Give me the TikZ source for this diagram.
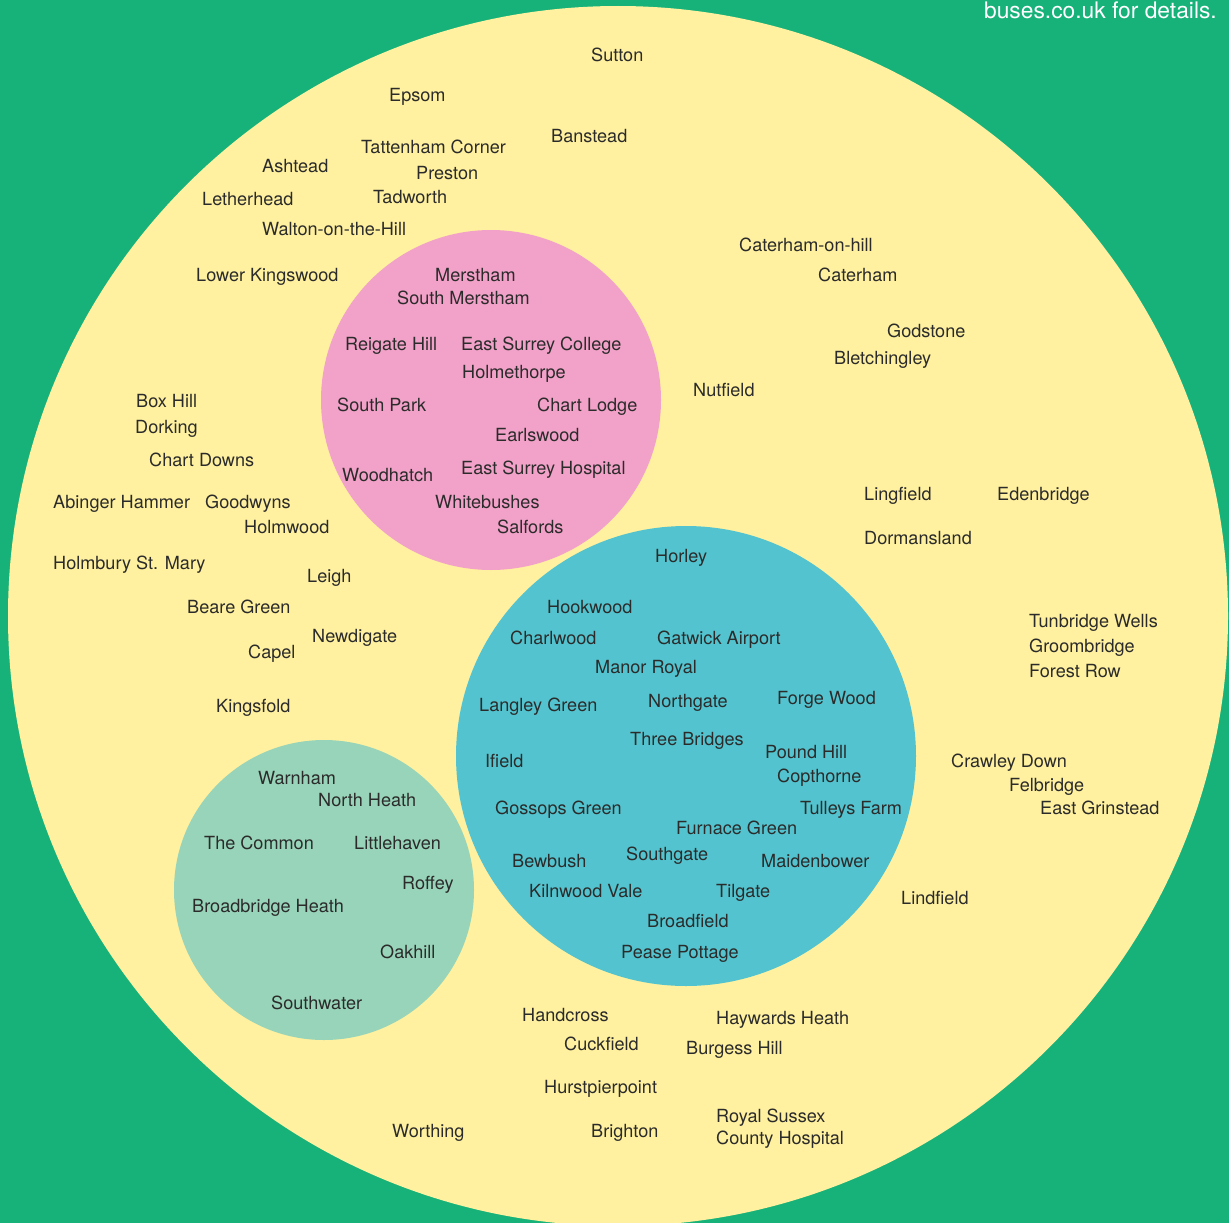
\documentclass[tikz,border=0pt]{standalone}
\usepackage{fontspec}
\setmainfont{TeX Gyre Heros}
\usepackage{tikz}
\usetikzlibrary{positioning}

\definecolor{bgGreen}{HTML}{16B27A}
\definecolor{zoneYellow}{HTML}{FFF19F}
\definecolor{zonePink}{HTML}{F2A2C8}
\definecolor{zoneBlue}{HTML}{53C4CF}
\definecolor{zoneMint}{HTML}{98D4B9}
\definecolor{placeText}{HTML}{2B2B2B}

\tikzset{
	place/.style={anchor=base west,inner sep=0pt,text=placeText,font=\fontsize{18.1}{22}\selectfont},
	note/.style={anchor=base east,inner sep=0pt,text=white,font=\fontsize{22.8}{26}\selectfont}
}

\begin{document}
\begin{tikzpicture}[x=1pt,y=-1pt]
	% Flaechen
		\useasboundingbox (0,0) rectangle (1229,1223);
		\fill[bgGreen] (0,0) rectangle (1229,1223);
		\fill[zoneYellow] (618,616) circle [radius=610pt];
		\fill[zonePink] (491,400) circle [radius=170pt];
		\fill[zoneBlue] (686,756) circle [radius=230pt];
		\fill[zoneMint] (324,890) circle [radius=150pt];
	% Hinweis
		\node (details) at (1217,19) [note] {buses.co.uk for details.};
	% Orte aussen
		\node (sutton) at (591,62) [place] {Sutton};
		\node (epsom) at (389,102) [place] {Epsom};
		\node (banstead) at (551,142) [place] {Banstead};
		\node (tattenham) at (361,153) [place] {Tattenham Corner};
		\node (ashtead) at (262,172) [place] {Ashtead};
		\node (preston) at (416,179) [place] {Preston};
		\node (letherhead) at (202,205) [place] {Letherhead};
		\node (tadworth) at (373,203) [place] {Tadworth};
		\node (walton) at (262,235) [place] {Walton-on-the-Hill};
		\node (caterhamhill) at (739,251) [place] {Caterham-on-hill};
		\node (kingswood) at (196,281) [place] {Lower Kingswood};
		\node (caterham) at (818,281) [place] {Caterham};
		\node (godstone) at (887,337) [place] {Godstone};
		\node (bletchingley) at (834,364) [place] {Bletchingley};
		\node (nutfield) at (693,396) [place] {Nutfield};
		\node (boxhill) at (136,407) [place] {Box Hill};
		\node (dorking) at (135,433) [place] {Dorking};
		\node (chartdowns) at (149,466) [place] {Chart Downs};
		\node (lingfield) at (864,500) [place] {Lingfield};
		\node (edenbridge) at (997,500) [place] {Edenbridge};
		\node (abinger) at (53,508) [place] {Abinger Hammer};
		\node (goodwyns) at (205,508) [place] {Goodwyns};
		\node (holmwood) at (244,533) [place] {Holmwood};
		\node (dormansland) at (864,544) [place] {Dormansland};
		\node (holmbury) at (53,569) [place] {Holmbury St. Mary};
		\node (leigh) at (307,582) [place] {Leigh};
		\node (bearegreen) at (187,613) [place] {Beare Green};
		\node (tunbridge) at (1029,627) [place] {Tunbridge Wells};
		\node (groombridge) at (1029,652) [place] {Groombridge};
		\node (forestrow) at (1029,677) [place] {Forest Row};
		\node (newdigate) at (312,642) [place] {Newdigate};
		\node (capel) at (248,658) [place] {Capel};
		\node (kingsfold) at (216,712) [place] {Kingsfold};
		\node (crawleydown) at (951,767) [place] {Crawley Down};
		\node (felbridge) at (1009,791) [place] {Felbridge};
		\node (grinstead) at (1040,814) [place] {East Grinstead};
		\node (lindfield) at (901,904) [place] {Lindfield};
		\node (handcross) at (522,1021) [place] {Handcross};
		\node (haywards) at (716,1024) [place] {Haywards Heath};
		\node (cuckfield) at (564,1050) [place] {Cuckfield};
		\node (burgess) at (686,1054) [place] {Burgess Hill};
		\node (hurst) at (544,1093) [place] {Hurstpierpoint};
		\node (royalsussex) at (716,1122) [place] {Royal Sussex};
		\node (countyhosp) at (716,1144) [place] {County Hospital};
		\node (worthing) at (392,1137) [place] {Worthing};
		\node (brighton) at (591,1137) [place] {Brighton};
	% Orte rosa
		\node (merstham) at (435,281) [place] {Merstham};
		\node (southmerstham) at (397,304) [place] {South Merstham};
		\node (reigatehill) at (345,350) [place] {Reigate Hill};
		\node (esc) at (461,350) [place] {East Surrey College};
		\node (holmethorpe) at (462,378) [place] {Holmethorpe};
		\node (southpark) at (337,411) [place] {South Park};
		\node (chartlodge) at (537,411) [place] {Chart Lodge};
		\node (earlswood) at (495,441) [place] {Earlswood};
		\node (woodhatch) at (342,481) [place] {Woodhatch};
		\node (esh) at (461,474) [place] {East Surrey Hospital};
		\node (whitebushes) at (435,508) [place] {Whitebushes};
		\node (salfords) at (497,533) [place] {Salfords};
	% Orte blau
		\node (horley) at (655,562) [place] {Horley};
		\node (hookwood) at (547,613) [place] {Hookwood};
		\node (charlwood) at (510,644) [place] {Charlwood};
		\node (gatwick) at (657,644) [place] {Gatwick Airport};
		\node (manorroyal) at (595,673) [place] {Manor Royal};
		\node (langley) at (479,711) [place] {Langley Green};
		\node (northgate) at (648,707) [place] {Northgate};
		\node (forgewood) at (777,704) [place] {Forge Wood};
		\node (threebridges) at (630,745) [place] {Three Bridges};
		\node (poundhill) at (765,758) [place] {Pound Hill};
		\node (ifield) at (485,767) [place] {Ifield};
		\node (copthorne) at (777,782) [place] {Copthorne};
		\node (gossops) at (495,814) [place] {Gossops Green};
		\node (tulleys) at (800,814) [place] {Tulleys Farm};
		\node (furnace) at (676,834) [place] {Furnace Green};
		\node (bewbush) at (512,867) [place] {Bewbush};
		\node (southgate) at (626,860) [place] {Southgate};
		\node (maidenbower) at (761,867) [place] {Maidenbower};
		\node (kilnwood) at (529,897) [place] {Kilnwood Vale};
		\node (tilgate) at (716,897) [place] {Tilgate};
		\node (broadfield) at (647,927) [place] {Broadfield};
		\node (pease) at (621,958) [place] {Pease Pottage};
	% Orte gruen
		\node (warnham) at (258,784) [place] {Warnham};
		\node (northheath) at (318,806) [place] {North Heath};
		\node (common) at (204,849) [place] {The Common};
		\node (littlehaven) at (354,849) [place] {Littlehaven};
		\node (roffey) at (402,889) [place] {Roffey};
		\node (broadbridge) at (192,912) [place] {Broadbridge Heath};
		\node (oakhill) at (380,958) [place] {Oakhill};
		\node (southwater) at (271,1009) [place] {Southwater};
\end{tikzpicture}
\end{document}
